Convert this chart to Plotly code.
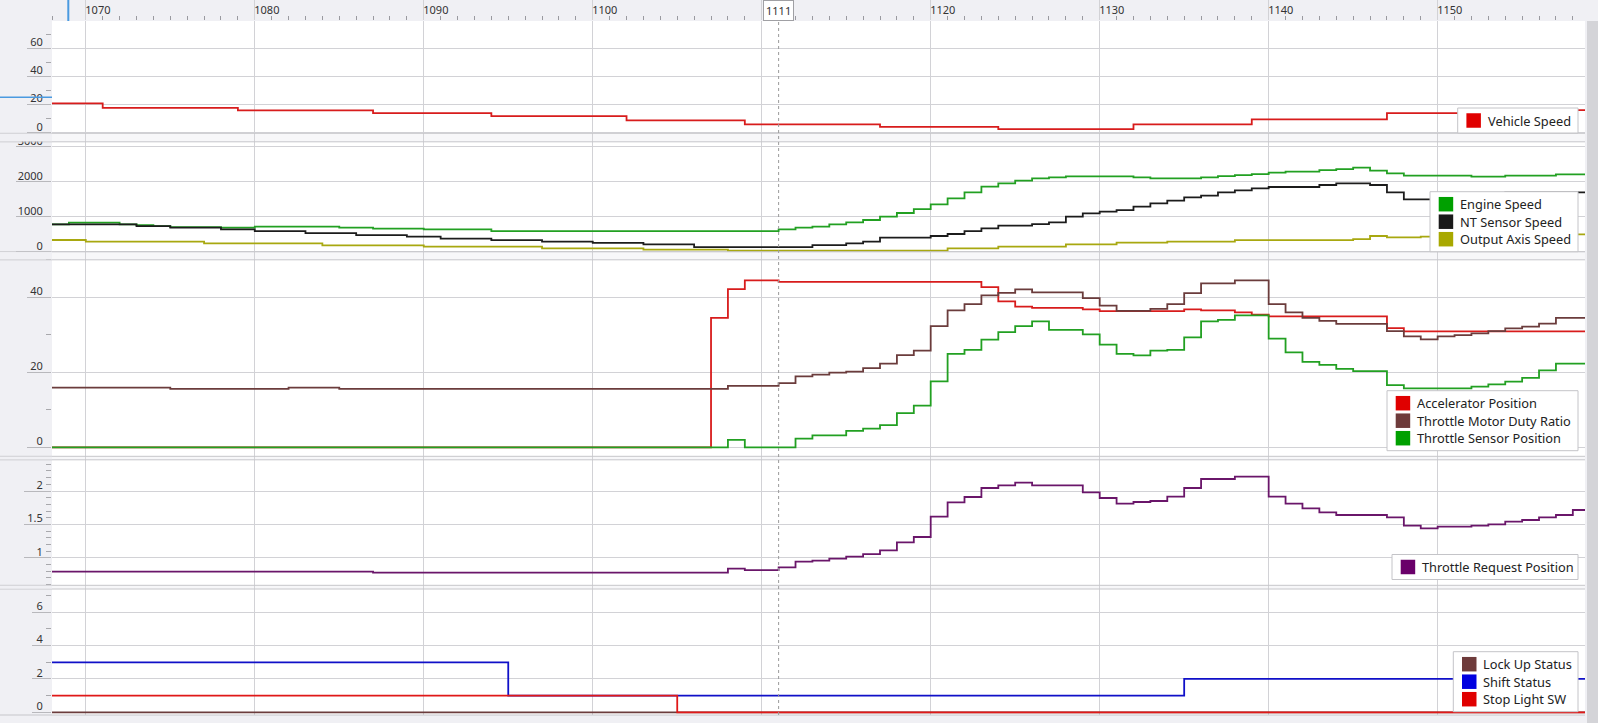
import plotly.graph_objects as go

# ---------------- data (change points: value holds until next time) ----------------
t_vehicle = [1068, 1071, 1079, 1087, 1094, 1102, 1109, 1117, 1124, 1132, 1139, 1147, 1158, 1159]
v_vehicle = [20.8, 17.7, 15.8, 13.9, 11.8, 8.8, 5.9, 4.1, 2.6, 5.9, 9.5, 13.9, 16.0, 16.0]

t_engine = [1068, 1069, 1072, 1073, 1074, 1075, 1078, 1080, 1085, 1087, 1090, 1094, 1111, 1112, 1113, 1114,
            1115, 1116, 1117, 1118, 1119, 1120, 1121, 1122, 1123, 1124, 1125, 1126, 1127, 1128, 1132,
            1133, 1136, 1137, 1138, 1139, 1140, 1141, 1143, 1144, 1145, 1146, 1147, 1148, 1152, 1154,
            1157, 1159]
v_engine = [783, 829, 783, 762, 733, 700, 686, 714, 686, 662, 638, 590, 638, 686, 714, 781,
            838, 905, 1000, 1105, 1219, 1352, 1524, 1695, 1857, 1952, 2029, 2095, 2124, 2152, 2124,
            2095, 2124, 2162, 2190, 2219, 2257, 2286, 2333, 2362, 2400, 2314, 2238, 2171, 2143, 2171,
            2210, 2210]

t_nt = [1068, 1073, 1075, 1078, 1080, 1083, 1086, 1089, 1091, 1094, 1097, 1100, 1103, 1106, 1113, 1115,
        1116, 1117, 1120, 1121, 1122, 1123, 1124, 1126, 1127, 1128, 1129, 1130, 1131, 1132, 1133,
        1134, 1135, 1136, 1137, 1138, 1139, 1140, 1143, 1144, 1146, 1147, 1148, 1154, 1159]
v_nt = [783, 733, 686, 638, 590, 533, 476, 429, 371, 333, 290, 250, 210, 133, 190, 238,
        286, 400, 448, 505, 590, 667, 743, 790, 838, 1000, 1095, 1143, 1190, 1286, 1381,
        1457, 1552, 1600, 1695, 1752, 1810, 1848, 1905, 1952, 1905, 1695, 1495, 1695, 1695]

t_output = [1068, 1070, 1077, 1084, 1090, 1097, 1103, 1108, 1121, 1124, 1128, 1131, 1134, 1138, 1145,
            1146, 1147, 1149, 1157, 1159]
v_output = [334, 286, 238, 181, 143, 95, 57, 29, 95, 143, 210, 257, 286, 330, 362,
            448, 410, 429, 495, 495]

t_accel = [1068, 1107, 1108, 1109, 1111, 1123, 1124, 1125, 1126, 1129, 1130, 1135, 1136, 1138, 1139,
           1140, 1147, 1148, 1159]
v_accel = [0, 34.5, 42.2, 44.5, 44.1, 42.7, 38.9, 37.5, 37.2, 36.8, 36.3, 36.8, 36.5, 36.0, 35.4,
           34.9, 31.8, 30.9, 30.9]

t_duty = [1068, 1075, 1082, 1085, 1108, 1111, 1112, 1113, 1114, 1115, 1116, 1117, 1118, 1119, 1120,
          1121, 1122, 1123, 1124, 1125, 1126, 1129, 1130, 1131, 1133, 1134, 1135, 1136, 1138, 1140,
          1141, 1142, 1143, 1144, 1147, 1148, 1149, 1150, 1151, 1152, 1153, 1154, 1155, 1156, 1157,
          1159]
v_duty = [15.9, 15.6, 15.9, 15.6, 16.4, 17.1, 18.9, 19.4, 19.9, 20.2, 21.1, 22.3, 24.6, 25.8, 32.3,
          36.5, 38.2, 40.5, 41.2, 42.1, 41.3, 39.8, 37.8, 36.4, 36.9, 38.2, 41.1, 43.7, 44.5, 38.2,
          36.0, 34.5, 33.7, 32.9, 31.0, 29.6, 28.8, 29.6, 29.9, 30.4, 31.0, 31.7, 32.2, 33.0, 34.5,
          34.5]

t_sensor = [1068, 1108, 1109, 1112, 1113, 1115, 1116, 1117, 1118, 1119, 1120, 1121, 1122, 1123, 1124,
            1125, 1126, 1127, 1129, 1130, 1131, 1132, 1133, 1134, 1135, 1136, 1137, 1138, 1140, 1141,
            1142, 1143, 1144, 1145, 1147, 1148, 1152, 1153, 1154, 1155, 1156, 1157, 1159]
v_sensor = [0, 2.0, 0, 2.3, 3.2, 4.4, 5.0, 5.9, 9.1, 11.1, 17.6, 24.9, 26.0, 28.7, 30.7,
            32.3, 33.6, 31.3, 30.1, 27.4, 24.9, 24.5, 25.8, 26.0, 29.3, 33.6, 34.0, 35.2, 29.0, 25.3,
            22.8, 22.0, 20.9, 20.3, 16.6, 15.7, 16.2, 16.8, 17.5, 18.5, 20.5, 22.3, 22.3]

t_request = [1068, 1087, 1108, 1109, 1111, 1112, 1113, 1114, 1115, 1116, 1117, 1118, 1119, 1120, 1121,
             1122, 1123, 1124, 1125, 1126, 1129, 1130, 1131, 1132, 1133, 1134, 1135, 1136, 1138, 1140,
             1141, 1142, 1143, 1144, 1147, 1148, 1149, 1150, 1152, 1153, 1154, 1155, 1156, 1157, 1158,
             1159]
v_request = [0.79, 0.775, 0.835, 0.815, 0.855, 0.94, 0.955, 0.985, 1.015, 1.055, 1.11, 1.23, 1.31, 1.615, 1.83,
             1.91, 2.045, 2.085, 2.125, 2.085, 1.98, 1.895, 1.81, 1.835, 1.85, 1.915, 2.045, 2.18, 2.215, 1.915,
             1.81, 1.74, 1.68, 1.64, 1.605, 1.48, 1.44, 1.465, 1.48, 1.50, 1.54, 1.565, 1.605, 1.64, 1.715,
             1.715]

t_lockup = [1068, 1159]
v_lockup = [0, 0]
t_shift = [1068, 1095, 1135, 1159]
v_shift = [3, 1, 2, 2]
t_stop = [1068, 1105, 1159]
v_stop = [1, 0, 0]

x_ticks = [1070, 1080, 1090, 1100, 1110, 1120, 1130, 1140, 1150]
cursor_time = 1111

# ---------------- layout geometry (pixels) ----------------
W, H = 1598, 723
ML, MR, MT, MB = 52, 13, 21, 8
PW, PH = W - ML - MR, H - MT - MB
X_RANGE = [1068.0, 1158.72]

def yp(px):
    return (H - MB - px) / PH

def xp(px):
    return (px - ML) / PW

# (top px, bottom px, (value a, px a), (value b, px b), tickvals, minor dtick, ticklen)
panels = [
    (21, 137.5, (0, 132.7), (60, 48.3), [0, 20, 40, 60], 10, 24),
    (137.5, 256.0, (0, 251.7), (2000, 181.7), [0, 1000, 2000, 3000], None, 35),
    (256.0, 458.0, (0, 447.3), (40, 297.3), [0, 20, 40], 10, 24),
    (458.0, 587.5, (1, 557.7), (2, 491.0), [1, 1.5, 2], 0.1, 27),
    (587.5, 715.0, (0, 712.3), (6, 612.3), [0, 2, 4, 6], 1, 19),
]
# legend boxes: (left px, bottom px) per panel, right edge common
legend_boxes = [(1457.7, 133.0), (1430.0, 251.7), (1387.0, 450.7), (1392.0, 579.5), (1453.3, 711.7)]
LEG_RIGHT = 1578
ROW_H = 17.5

GRID = "#d2d2d6"
BAND = "#f0f0f4"
FONT = "Noto Sans"
TXT = "#333333"

series = [
    # panel, name, t, v, line color, legend color
    (1, "Vehicle Speed", t_vehicle, v_vehicle, "#d81c1c", "#e00000"),
    (2, "Engine Speed", t_engine, v_engine, "#22a022", "#00a000"),
    (2, "NT Sensor Speed", t_nt, v_nt, "#1c1c1c", "#1a1a1a"),
    (2, "Output Axis Speed", t_output, v_output, "#a8a810", "#a8a800"),
    (3, "Accelerator Position", t_accel, v_accel, "#d81c1c", "#e00000"),
    (3, "Throttle Motor Duty Ratio", t_duty, v_duty, "#6b3c3c", "#6e3b3b"),
    (3, "Throttle Sensor Position", t_sensor, v_sensor, "#22a022", "#00a000"),
    (4, "Throttle Request Position", t_request, v_request, "#6a166a", "#6a006a"),
    (5, "Lock Up Status", t_lockup, v_lockup, "#6b3c3c", "#6e3b3b"),
    (5, "Shift Status", t_shift, v_shift, "#1010c8", "#0000e0"),
    (5, "Stop Light SW", t_stop, v_stop, "#e01818", "#e00000"),
]

fig = go.Figure()

for p, name, t, v, lc, sc in series:
    xa = "x" if p == 1 else f"x{p}"
    ya = "y" if p == 1 else f"y{p}"
    fig.add_trace(go.Scatter(x=t, y=v, mode="lines", name=name,
                             line=dict(color=lc, width=1.8, shape="hv"),
                             xaxis=xa, yaxis=ya, showlegend=False, hoverinfo="skip"))

layout = dict(
    width=W, height=H,
    margin=dict(l=ML, r=MR, t=MT, b=MB, pad=0, autoexpand=False),
    paper_bgcolor=BAND, plot_bgcolor="white",
    font=dict(family=FONT, size=11, color=TXT),
    showlegend=False,
)

# labels hidden behind the cursor box
x_ticktext = ["" if abs(v - cursor_time) < 2 else str(v) for v in x_ticks]

for i, (top, bot, (va, pa), (vb, pb), tv, mdt, tl) in enumerate(panels, start=1):
    k = (vb - va) / (pa - pb)
    r0 = va + (pa - bot) * k
    r1 = va + (pa - top) * k
    xkey = "xaxis" if i == 1 else f"xaxis{i}"
    ykey = "yaxis" if i == 1 else f"yaxis{i}"
    ya = "y" if i == 1 else f"y{i}"
    xa = "x" if i == 1 else f"x{i}"
    xaxis = dict(domain=[0, 1], range=X_RANGE, anchor=ya, showgrid=True, gridcolor=GRID, gridwidth=1,
                 tickmode="array", tickvals=x_ticks, ticktext=x_ticktext, zeroline=False, showline=False,
                 fixedrange=True, automargin=False)
    if i == 1:
        xaxis.update(side="top", ticks="outside", ticklen=21, tickcolor=GRID, showticklabels=True,
                     ticklabelposition="outside right", ticklabelstandoff=2, ticklabelshift=-1,
                     tickfont=dict(size=11, color=TXT),
                     minor=dict(tickmode="linear", tick0=1070, dtick=1, ticks="outside", ticklen=4,
                                tickcolor="#9a9aa0", showgrid=False))
    else:
        xaxis.update(matches="x", showticklabels=False, ticks="")
    layout[xkey] = xaxis
    yaxis = dict(domain=[yp(bot), yp(top)], range=[r0, r1], anchor=xa, tickmode="array", tickvals=tv,
                 ticks="outside", ticklen=tl, tickcolor="#b8b8bc", tickwidth=1,
                 showgrid=True, gridcolor=GRID, gridwidth=1, zeroline=False, showline=False,
                 ticklabelstandoff=-(tl - 6), ticklabelshift=-6, tickfont=dict(size=11, color=TXT),
                 fixedrange=True, automargin=False)
    if mdt is not None:
        yaxis["minor"] = dict(tickmode="linear", tick0=0, dtick=mdt, ticks="outside", ticklen=5,
                              tickcolor="#a8a8ac", showgrid=False)
    layout[ykey] = yaxis

fig.update_layout(**layout)

shapes = []
# separators between panels
seps = [(133.3, 141.8), (251.8, 259.8), (456.3, 459.8), (585.3, 589.0)]
for a, b in seps:
    shapes.append(dict(type="rect", xref="paper", yref="paper", x0=xp(0), x1=1, y0=yp(b), y1=yp(a),
                       fillcolor="#f7f7f9", line=dict(width=0), layer="below"))
    for yy in (a, b):
        shapes.append(dict(type="line", xref="paper", yref="paper", x0=xp(0), x1=1, y0=yp(yy), y1=yp(yy),
                           line=dict(color="#c6c6ca", width=1), layer="above"))
    shapes.append(dict(type="rect", xref="paper", yref="paper", x0=xp(0), x1=0, y0=yp(b - 0.5), y1=yp(a + 0.5),
                       fillcolor=BAND, line=dict(width=0), layer="above"))
# bottom border
shapes.append(dict(type="line", xref="paper", yref="paper", x0=xp(0), x1=1, y0=0, y1=0,
                   line=dict(color="#c6c6ca", width=1), layer="above"))
# cursor line
shapes.append(dict(type="line", xref="x", yref="paper", x0=cursor_time, x1=cursor_time, y0=0, y1=1,
                   line=dict(color="#9a9a9a", width=1, dash="dot"), layer="above"))
# selection thumbs (UI markers)
shapes.append(dict(type="line", xref="paper", yref="paper", x0=xp(68.3), x1=xp(68.3), y0=1, y1=yp(0),
                   line=dict(color="#4a9ae0", width=2), layer="above"))
shapes.append(dict(type="line", xref="paper", yref="paper", x0=xp(0), x1=0, y0=yp(97.3), y1=yp(97.3),
                   line=dict(color="#4a9ae0", width=1.5), layer="above"))
# right scroll band
shapes.append(dict(type="rect", xref="paper", yref="paper", x0=xp(1587), x1=xp(1598), y0=yp(723), y1=yp(21),
                   fillcolor="#d4d4d8", line=dict(width=0), layer="above"))

# ---- per-panel legends (box, colour square, label) ----
annotations = []
for i, (left, bottom) in enumerate(legend_boxes, start=1):
    items = [(name, sc) for p, name, t, v, lc, sc in series if p == i]
    n = len(items)
    top = bottom - (n * ROW_H + 7.5)
    shapes.append(dict(type="rect", xref="paper", yref="paper", x0=xp(left), x1=xp(LEG_RIGHT),
                       y0=yp(bottom), y1=yp(top), fillcolor="white",
                       line=dict(color="#c4c4c8", width=1), layer="above"))
    for j, (name, sc) in enumerate(items):
        cy = top + 12.5 + j * ROW_H
        shapes.append(dict(type="rect", xref="paper", yref="paper", x0=xp(left + 8.7), x1=xp(left + 23.2),
                           y0=yp(cy + 7.25), y1=yp(cy - 7.25), fillcolor=sc, line=dict(width=0),
                           layer="above"))
        annotations.append(dict(x=xp(left + 30), y=yp(cy), xref="paper", yref="paper", text=name,
                                showarrow=False, xanchor="left", yanchor="middle", borderpad=0, borderwidth=0,
                                font=dict(family=FONT, size=12.8, color="#222222")))

annotations.append(dict(x=cursor_time, xref="x", y=yp(11), yref="paper", text=str(cursor_time), showarrow=False,
                        bgcolor="white", bordercolor="#a0a0a4", borderwidth=1, borderpad=2,
                        font=dict(family=FONT, size=11, color=TXT), xanchor="center", yanchor="middle"))

fig.update_layout(shapes=shapes, annotations=annotations)

fig.write_html("out.html", config={"displayModeBar": False, "staticPlot": True},
               post_script="document.body.style.margin='0';document.body.style.overflow='hidden';")
